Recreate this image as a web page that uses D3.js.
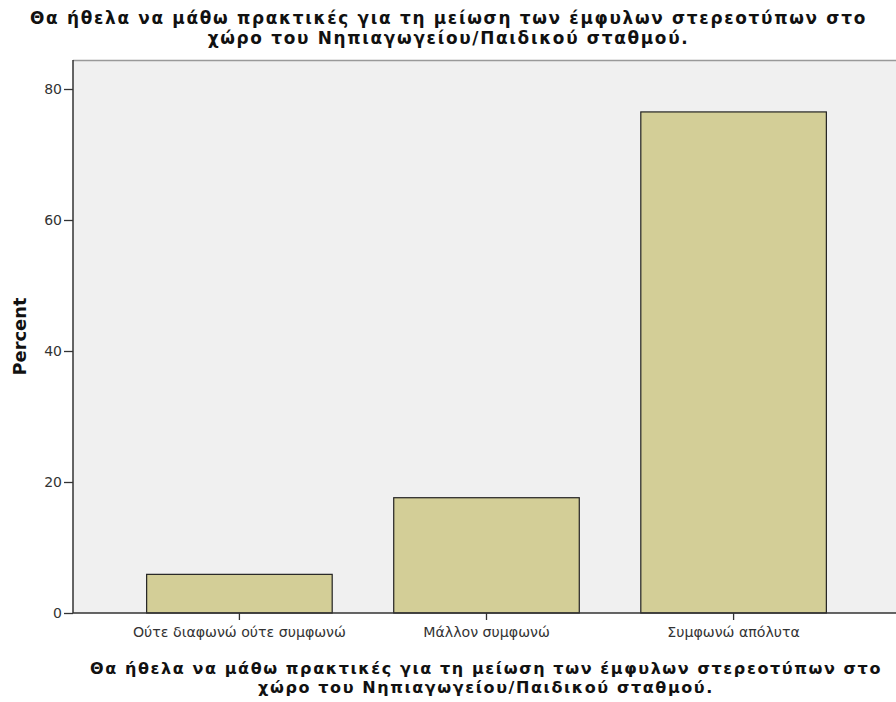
<!DOCTYPE html>
<html><head><meta charset="utf-8">
<script src="https://cdn.jsdelivr.net/npm/d3@7"></script>
<style>body{margin:0;background:#fff}svg{display:block}</style>
</head><body>
<script>
const categories = ["Ούτε διαφωνώ ούτε συμφωνώ", "Μάλλον συμφωνώ", "Συμφωνώ απόλυτα"];
const percentValues = [5.9, 17.6, 76.5];
const yTicks = [0, 20, 40, 60, 80];
const titleLines = ["Θα ήθελα να μάθω πρακτικές για τη μείωση των έμφυλων στερεοτύπων στο", "χώρο του Νηπιαγωγείου/Παιδικού σταθμού."];
const yLabel = "Percent";

(function () {
const W = 896, H = 702;
const pLeft = 73, pRight = 900, pTop = 60, pBottom = 613;
const svg = d3.select("body").append("svg").attr("width", W).attr("height", H);
const font = "'DejaVu Sans', Verdana, sans-serif";

function fit(sel, target) {
  const base = +sel.attr("font-size");
  const w = sel.node().getComputedTextLength();
  const s = base * target / w;
  sel.attr("font-size", s.toFixed(2));
  return s;
}
function spread(sel, target) {
  const w = sel.node().getComputedTextLength();
  const n = sel.text().length;
  const ls = (target - w) / n;
  sel.attr("letter-spacing", ls.toFixed(3));
  return ls;
}

const x = d3.scaleBand().domain(categories).range([pLeft, pRight]).paddingInner(0.249).paddingOuter(0.298);
const y = d3.scaleLinear().domain([0, 80]).range([pBottom, 89]);

svg.append("rect").attr("x", pLeft).attr("y", pTop).attr("width", pRight - pLeft).attr("height", pBottom - pTop).attr("fill", "#f0f0f0");
svg.append("line").attr("x1", pLeft).attr("x2", pRight).attr("y1", pTop + 0.5).attr("y2", pTop + 0.5).attr("stroke", "#999").attr("stroke-width", 1.5);

svg.selectAll("rect.bar").data(percentValues).join("rect").attr("class", "bar")
  .attr("x", (d, i) => x(categories[i]))
  .attr("y", d => y(d))
  .attr("width", x.bandwidth())
  .attr("height", d => y(0) - y(d))
  .attr("fill", "#d3ce97").attr("stroke", "#222").attr("stroke-width", 1.2);

const ya = svg.append("g").attr("transform", `translate(${pLeft},0)`).call(d3.axisLeft(y).tickValues(yTicks).tickSize(9).tickPadding(2));
ya.select(".domain").attr("d", `M0,${pTop}V${pBottom}`).attr("stroke", "#333").attr("stroke-width", 1.5);
ya.selectAll(".tick line").attr("stroke", "#333").attr("stroke-width", 1.3);
ya.selectAll(".tick text").attr("font-family", font).attr("font-size", 14).attr("fill", "#333");

const xa = svg.append("g").attr("transform", `translate(0,${pBottom})`).call(d3.axisBottom(x).tickSize(7).tickPadding(7));
xa.select(".domain").attr("d", `M${pLeft},0H${pRight}`).attr("stroke", "#333").attr("stroke-width", 1.5);
xa.selectAll(".tick line").attr("stroke", "#333").attr("stroke-width", 1.3);
const xLabels = xa.selectAll(".tick text").attr("font-family", font).attr("font-size", 12).attr("fill", "#333");
const first = xLabels.filter((d, i) => i === 0);
const xs = fit(first, 213);
xLabels.attr("font-size", xs.toFixed(2));

function title(cx, y0, size, lh, target1) {
  const lines = titleLines.map((l, i) => svg.append("text").attr("font-family", font).attr("font-weight", "bold")
    .attr("font-size", size).attr("text-anchor", "middle").attr("fill", "#111")
    .attr("x", cx).attr("y", y0 + i * lh).text(l));
  const ls = spread(lines[0], target1);
  lines[1].attr("letter-spacing", ls.toFixed(3));
}
title(448.5, 24, 16.9, 19.7, 837);
title(486, 674, 16, 19, 792);

const yl = svg.append("text").attr("font-family", font).attr("font-weight", "bold").attr("font-size", 14).attr("text-anchor", "middle")
  .attr("transform", `translate(26,${(pTop + pBottom) / 2}) rotate(-90)`).attr("fill", "#111").text(yLabel);
fit(yl, 78);
})();
</script>
</body></html>
